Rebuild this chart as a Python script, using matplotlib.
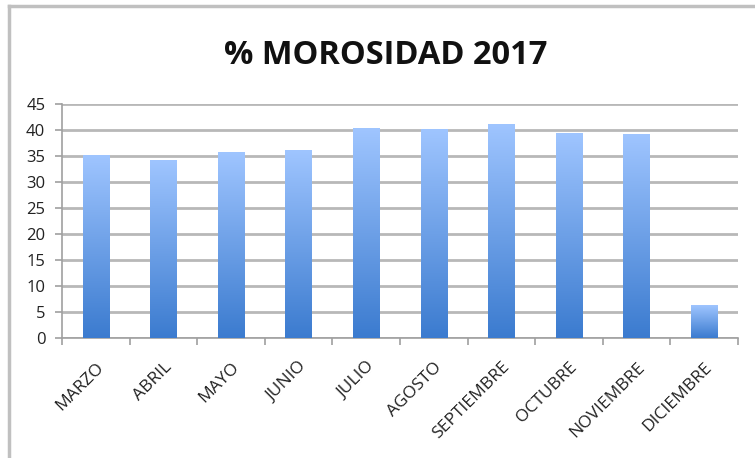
import matplotlib
matplotlib.use("Agg")
import matplotlib.pyplot as plt
import numpy as np
from matplotlib.colors import LinearSegmentedColormap
from matplotlib.lines import Line2D

categories = ["MARZO", "ABRIL", "MAYO", "JUNIO", "JULIO", "AGOSTO",
              "SEPTIEMBRE", "OCTUBRE", "NOVIEMBRE", "DICIEMBRE"]
values = [35, 34, 35.6, 36.1, 40.2, 40, 41, 39.3, 39, 6.2]
yticks = [0, 5, 10, 15, 20, 25, 30, 35, 40, 45]
title = "% MOROSIDAD 2017"

plt.rcParams['font.family'] = ['Open Sans', 'DejaVu Sans']

fig = plt.figure(figsize=(7.55, 4.58), dpi=100)
ax = fig.add_axes([62/755, 1-338.3/458, (738-62)/755, (338.3-104)/458])

x = np.arange(len(categories))
width = 0.39
cmap = LinearSegmentedColormap.from_list("g", ["#3b7bcf", "#9fc5ff"])
grad = np.linspace(0, 1, 256).reshape(-1, 1)

bars = ax.bar(x, values, width=width, color="none", zorder=3)
for b in bars:
    x0 = b.get_x(); w = b.get_width(); h = b.get_height()
    ax.imshow(grad, cmap=cmap, origin="lower", aspect="auto",
              extent=[x0, x0 + w, 0, h], zorder=3)

ax.set_xlim(-0.5, len(categories) - 0.5)
ax.set_ylim(0, 45)
ax.set_yticks(yticks)
ax.set_yticklabels([str(t) for t in yticks], fontsize=12, color="#222222")
ax.set_xticks(x)
ax.set_xticklabels(categories, rotation=45, ha="right", rotation_mode="anchor",
                   fontsize=12.5, color="#222222")
ax.set_xticks(np.arange(-0.5, len(categories)), minor=True)
ax.tick_params(axis="x", which="major", length=0, pad=15)
ax.tick_params(axis="x", which="minor", length=5, color="#a0a0a0", width=1.2)
ax.tick_params(axis="y", length=5, color="#a0a0a0", width=1.2, pad=7)

ax.yaxis.grid(True, color="#b8b8b8", linewidth=2, zorder=0)
ax.set_axisbelow(True)
for s in ["top", "right"]:
    ax.spines[s].set_visible(False)
for s in ["left", "bottom"]:
    ax.spines[s].set_color("#a0a0a0")
    ax.spines[s].set_linewidth(1.2)

fig.text(386/755, 1-55/458, title, ha="center", va="center",
         fontsize=23.5, fontweight="bold", color="#111111")

fig.add_artist(Line2D([9/755, 9/755], [0, 1-6/458], transform=fig.transFigure,
                      color="#c0c0c0", linewidth=2.5))
fig.add_artist(Line2D([9/755, 1], [1-6/458, 1-6/458], transform=fig.transFigure,
                      color="#c0c0c0", linewidth=2.5))

fig.savefig("out.png", dpi=100)
